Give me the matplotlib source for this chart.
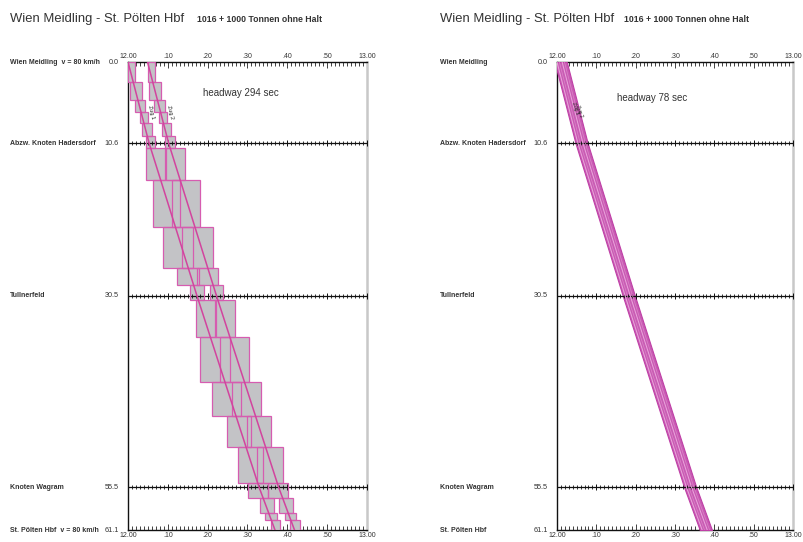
import matplotlib
matplotlib.use('Agg')
import matplotlib.pyplot as plt
from matplotlib.patches import Rectangle
from matplotlib.transforms import blended_transform_factory
import numpy as np

plt.rcParams['font.family'] = ['Liberation Sans', 'DejaVu Sans']

# ---------------- data ----------------
title = 'Wien Meidling - St. Pölten Hbf'
subtitle = '1016 + 1000 Tonnen ohne Halt'
station_names_left = ['Wien Meidling  v = 80 km/h', 'Abzw. Knoten Hadersdorf', 'Tullnerfeld',
                      'Knoten Wagram', 'St. Pölten Hbf  v = 80 km/h']
station_names_right = ['Wien Meidling', 'Abzw. Knoten Hadersdorf', 'Tullnerfeld',
                       'Knoten Wagram', 'St. Pölten Hbf']
station_km = [0.0, 10.6, 30.5, 55.5, 61.1]
station_km_labels = ['0.0', '10.6', '30.5', '55.5', '61.1']
tick_minutes = [0, 10, 20, 30, 40, 50, 60]
tick_labels = ['12.00', '.10', '.20', '.30', '.40', '.50', '13.00']

# train paths (minutes after 12:00 at each station km)
path_km = [0.0, 10.6, 30.5, 55.5, 61.1]
left_train1_min = [0.0, 5.3, 17.3, 32.9, 36.9]
left_train2_min = [4.9, 10.2, 22.2, 37.8, 41.8]
right_train1_min = [0.0, 5.3, 17.3, 32.9, 36.9]
right_train2_min = [1.3, 6.6, 18.6, 34.2, 38.2]

# block sections (km) and blocking times (minutes) - left chart
block_km_top = [0.0, 2.6, 5.0, 6.5, 8.0, 9.7, 11.2, 15.4, 21.5, 26.9,
                29.1, 31.1, 35.9, 41.8, 46.2, 50.3, 55.0, 56.9, 58.9, 59.8]
block_km_bot = [2.6, 5.0, 6.5, 8.0, 9.7, 11.2, 15.4, 21.5, 26.9, 29.1,
                31.1, 35.9, 41.8, 46.2, 50.3, 55.0, 56.9, 58.9, 59.8, 61.1]
train1_block_start = [0.0, 0.4, 1.7, 2.9, 3.6, 4.4, 4.6, 6.2, 8.7, 12.4,
                      15.6, 17.0, 18.2, 21.2, 24.9, 27.6, 30.2, 33.1, 34.4, 35.8]
train1_block_end = [1.8, 3.5, 4.3, 5.0, 5.9, 6.8, 9.4, 13.1, 16.4, 17.8,
                    19.0, 22.0, 25.6, 28.4, 31.0, 33.9, 35.2, 36.6, 37.3, 38.2]
train2_block_start = [4.9, 5.3, 6.6, 7.8, 8.5, 9.3, 9.5, 11.1, 13.6, 17.3,
                      20.5, 21.9, 23.1, 26.1, 29.8, 32.5, 35.1, 38.0, 39.3, 40.7]
train2_block_end = [6.7, 8.4, 9.2, 9.9, 10.8, 11.7, 14.3, 18.0, 21.3, 22.7,
                    23.9, 26.9, 30.5, 33.3, 35.9, 38.8, 40.1, 41.5, 42.2, 43.1]

headway_left = 'headway 294 sec'
headway_right = 'headway 78 sec'

# ---------------- style ----------------
MAG = '#d2449e'
EDGE = '#d65cb0'
GRAY = '#c3c3c6'
TXT = '#333333'

fig = plt.figure(figsize=(8.04, 5.42), dpi=100)
W, H = 804, 542


def make_axes(x0, x1):
    return fig.add_axes([x0 / W, 1 - 530 / H, (x1 - x0) / W, 468 / H])


def style_axes(ax, names, name_x, km_x):
    ax.set_xlim(0, 60)
    ax.set_ylim(61.1, 0)
    ax.set_yticks([])
    ax.set_xticks(tick_minutes)
    ax.set_xticklabels(tick_labels)
    ax.set_xticks(np.arange(0, 61, 1), minor=True)
    ax.tick_params(axis='x', which='both', top=True, bottom=True, labeltop=True,
                   labelbottom=True, direction='in', width=0.6, color='#222222',
                   labelsize=5, pad=1.5, labelcolor=TXT)
    ax.tick_params(axis='x', which='major', length=4.5)
    ax.tick_params(axis='x', which='minor', length=3)
    for s in ['top', 'bottom', 'left']:
        ax.spines[s].set_color('#111111')
        ax.spines[s].set_linewidth(1.0)
    ax.spines['right'].set_color('#c8c8c8')
    ax.spines['right'].set_linewidth(1.8)
    # intermediate station rulers
    for km in station_km[1:-1]:
        ax.axhline(km, color='#111111', lw=0.9, zorder=4)
        ax.plot(np.arange(0, 61, 1), [km] * 61, ls='', marker='|', ms=3.2,
                mew=0.6, color='#111111', zorder=4, clip_on=False)
        ax.plot(tick_minutes, [km] * len(tick_minutes), ls='', marker='|', ms=5,
                mew=0.7, color='#111111', zorder=4, clip_on=False)
    tr = blended_transform_factory(fig.transFigure, ax.transData)
    for nm, km, lab in zip(names, station_km, station_km_labels):
        ax.text(name_x / W, km, nm, transform=tr, fontsize=5, ha='left',
                va='center', color=TXT, fontweight='bold')
        ax.text(km_x / W, km, lab, transform=tr, fontsize=5.2, ha='right',
                va='center', color=TXT)


# ---------------- left chart ----------------
axL = make_axes(128, 367)
style_axes(axL, station_names_left, 10, 119)

for starts, ends in [(train1_block_start, train1_block_end),
                     (train2_block_start, train2_block_end)]:
    for kt, kb, s, e in zip(block_km_top, block_km_bot, starts, ends):
        axL.add_patch(Rectangle((s, kt), e - s, kb - kt, facecolor=GRAY,
                                edgecolor='none', zorder=3))
for starts, ends in [(train1_block_start, train1_block_end),
                     (train2_block_start, train2_block_end)]:
    for kt, kb, s, e in zip(block_km_top, block_km_bot, starts, ends):
        axL.add_patch(Rectangle((s, kt), e - s, kb - kt, facecolor='none',
                                edgecolor=EDGE, lw=0.9, zorder=5))
axL.plot(left_train1_min, path_km, color=MAG, lw=1.1, zorder=6)
axL.plot(left_train2_min, path_km, color=MAG, lw=1.1, zorder=6)
axL.text(18.8, 4.0, headway_left, fontsize=7, color=TXT, va='center', ha='left')
axL.text(5.7, 6.6, 'Zug 1', fontsize=4, rotation=-76, color='#222222',
         ha='center', va='center', zorder=7)
axL.text(10.5, 6.6, 'Zug 2', fontsize=4, rotation=-76, color='#222222',
         ha='center', va='center', zorder=7)

# ---------------- right chart ----------------
axR = make_axes(557, 793)
style_axes(axR, station_names_right, 440, 548)

t1 = np.array(right_train1_min)
t2 = np.array(right_train2_min)
axR.fill_betweenx(path_km, t1 - 0.6, t2 + 1.2, facecolor='#c95cb4',
                  edgecolor='#bf3fa6', lw=0.8, zorder=3)
for tmin in [t1, t2]:
    axR.plot(tmin, path_km, color='#eba6dc', lw=0.7, zorder=6)
    axR.plot(tmin + 0.6, path_km, color='#dc86c8', lw=0.5, zorder=6)
axR.text(15.3, 4.7, headway_right, fontsize=7, color=TXT, va='center', ha='left')
axR.text(4.6, 6.0, 'Zug 1', fontsize=3.5, rotation=-72, color='#222222',
         ha='center', va='center', zorder=7)
axR.text(5.8, 6.4, 'Zug 2', fontsize=3.5, rotation=-72, color='#222222',
         ha='center', va='center', zorder=7)

# ---------------- titles ----------------
fig.text(10 / W, 1 - 19 / H, title, fontsize=9.4, color=TXT, va='center', ha='left')
fig.text(197 / W, 1 - 19 / H, subtitle, fontsize=6.3, color=TXT, va='center',
         ha='left', fontweight='bold')
fig.text(440 / W, 1 - 19 / H, title, fontsize=9.4, color=TXT, va='center', ha='left')
fig.text(624 / W, 1 - 19 / H, subtitle, fontsize=6.3, color=TXT, va='center',
         ha='left', fontweight='bold')

fig.savefig('out.png', dpi=100)
